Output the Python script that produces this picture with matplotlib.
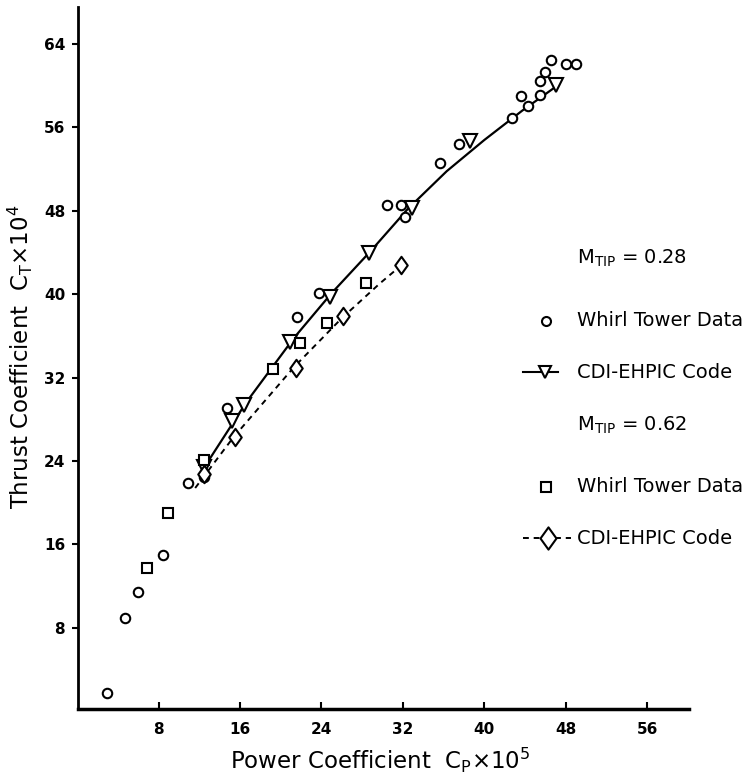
import matplotlib
matplotlib.use("Agg")
import matplotlib.pyplot as plt
from matplotlib.lines import Line2D
from matplotlib.path import Path

plt.rcParams['font.family'] = ['DejaVu Sans']
plt.rcParams['mathtext.default'] = 'regular'

# M_TIP = 0.28 whirl tower data (circles)
wt28_cp = [2.9, 4.7, 5.95, 8.4, 10.9, 12.5, 14.7, 21.6, 23.8, 30.4, 31.8, 32.2,
           35.6, 37.5, 42.7, 43.6, 44.3, 45.5, 45.5, 46.0, 46.5, 48.0, 49.0]
wt28_ct = [1.7, 8.9, 11.45, 15.0, 21.85, 22.5, 29.1, 37.8, 40.1, 48.6, 48.6, 47.4,
           52.6, 54.4, 56.9, 59.0, 58.1, 59.1, 60.5, 61.3, 62.5, 62.1, 62.1]

# M_TIP = 0.28 CDI-EHPIC code (inverted triangles)
code28_cp = [12.5, 15.2, 16.4, 20.9, 24.8, 28.7, 32.9, 38.6, 47.0]
code28_ct = [23.4, 27.8, 29.4, 35.4, 39.7, 44.0, 48.3, 54.7, 60.1]
# faired curve through the code results
curve28_cp = [12.5, 16.6, 21.3, 25.0, 28.8, 32.5, 36.3, 40.0, 43.7, 47.0]
curve28_ct = [23.4, 29.6, 35.8, 40.1, 44.1, 48.2, 51.8, 54.8, 57.6, 59.9]

# M_TIP = 0.62 whirl tower data (squares)
wt62_cp = [6.84, 8.96, 12.47, 19.2, 21.9, 24.5, 28.4]
wt62_ct = [13.7, 19.0, 24.1, 32.8, 35.3, 37.2, 41.1]

# M_TIP = 0.62 CDI-EHPIC code (diamonds)
code62_cp = [12.5, 15.5, 21.5, 26.1, 31.8]
code62_ct = [22.7, 26.3, 32.9, 37.9, 42.8]
curve62_cp = [11.6, 15.3, 21.3, 26.0, 29.7, 32.0]
curve62_ct = [21.4, 26.2, 33.0, 37.7, 41.0, 42.9]

xticks = [8, 16, 24, 32, 40, 48, 56]
yticks = [8, 16, 24, 32, 40, 48, 56, 64]

fig = plt.figure(figsize=(7.45, 7.80), dpi=100)
ax = fig.add_axes([0.1047, 0.0910, 0.8201, 0.9000])

diamond = Path([(0, 1), (0.72, 0), (0, -1), (-0.72, 0), (0, 1)],
               [Path.MOVETO, Path.LINETO, Path.LINETO, Path.LINETO, Path.CLOSEPOLY])

mk = dict(markerfacecolor='white', markeredgecolor='black', markeredgewidth=1.5,
          linestyle='none', zorder=3)

ax.plot(curve28_cp, curve28_ct, color='black', lw=1.6, zorder=2)
ax.plot(curve62_cp, curve62_ct, color='black', lw=1.4, ls=(0, (3, 2.5)), zorder=2)
ax.plot(wt28_cp, wt28_ct, marker='o', markersize=6.8, **mk)
ax.plot(code28_cp, code28_ct, marker='v', markersize=10, **mk)
ax.plot(wt62_cp, wt62_ct, marker='s', markersize=6.8, **mk)
ax.plot(code62_cp, code62_ct, marker=diamond, markersize=12.5, **mk)

ax.set_xlim(0.09, 60.1)
ax.set_ylim(0.19, 67.56)
ax.set_xticks(xticks)
ax.set_yticks(yticks)
ax.tick_params(axis='x', direction='in', length=5, width=1.5, pad=9.5, labelsize=11)
ax.tick_params(axis='y', direction='out', length=4.3, width=1.5, pad=5, labelsize=11)
for lab in ax.get_xticklabels() + ax.get_yticklabels():
    lab.set_fontweight('bold')
for s in ['top', 'right']:
    ax.spines[s].set_visible(False)
ax.spines['left'].set_linewidth(2)
ax.spines['bottom'].set_linewidth(2.5)

ax.set_xlabel(r'Power Coefficient  C$_P$$\times$10$^5$', fontsize=16.5)
ax.xaxis.set_label_coords(0.494, (709 - 760) / 702.0)
ax.xaxis.label.set_verticalalignment('center')
ax.set_ylabel(r'Thrust Coefficient  C$_T$$\times$10$^4$', fontsize=16.5)
ax.yaxis.set_label_coords((20 - 78) / 611.0, (709 - 357) / 702.0)
ax.yaxis.label.set_verticalalignment('center')

# legend (drawn by hand, text runs off the right edge as in the original)
W, H = 745.0, 780.0
def fx(px):
    return px / W
def fy(py):
    return 1 - py / H

tx = 577
fs = 14
rows = [258, 321, 372, 425, 487, 538]
fig.text(fx(tx), fy(rows[0]), r'M$_{TIP}$ = 0.28', fontsize=fs, va='center')
fig.text(fx(tx), fy(rows[1]), 'Whirl Tower Data', fontsize=fs, va='center')
fig.text(fx(tx), fy(rows[2]), 'CDI-EHPIC Code', fontsize=fs, va='center')
fig.text(fx(tx), fy(rows[3]), r'M$_{TIP}$ = 0.62', fontsize=fs, va='center')
fig.text(fx(tx), fy(rows[4]), 'Whirl Tower Data', fontsize=fs, va='center')
fig.text(fx(tx), fy(rows[5]), 'CDI-EHPIC Code', fontsize=fs, va='center')

fig.add_artist(Line2D([fx(546)], [fy(rows[1])], marker='o', markersize=6.5, **mk))
fig.add_artist(Line2D([fx(523), fx(558)], [fy(rows[2])] * 2, color='black', lw=1.5))
fig.add_artist(Line2D([fx(545)], [fy(rows[2])], marker='v', markersize=9, **mk))
fig.add_artist(Line2D([fx(546)], [fy(rows[4])], marker='s', markersize=6.5, **mk))
fig.add_artist(Line2D([fx(523), fx(571)], [fy(rows[5])] * 2, color='black', lw=1.4,
                      ls=(0, (3, 2.5))))
fig.add_artist(Line2D([fx(548)], [fy(rows[5])], marker=diamond, markersize=16, **mk))

fig.savefig('out.png', dpi=100)
